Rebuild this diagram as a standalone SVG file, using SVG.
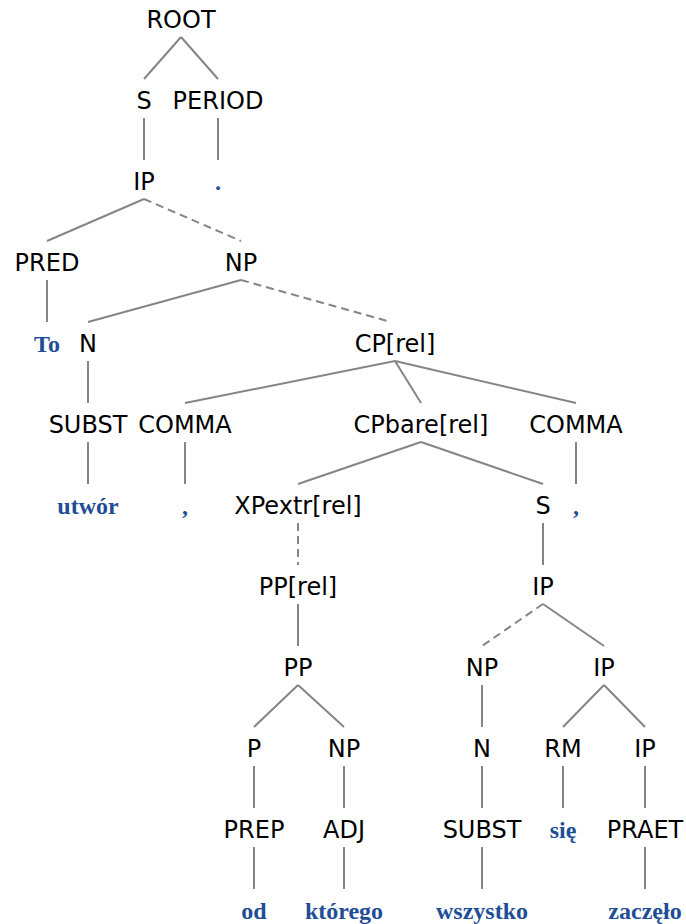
<svg xmlns="http://www.w3.org/2000/svg" width="686" height="924" viewBox="0 0 686 924">
<style>
.l{font-family:"DejaVu Sans",Verdana,sans-serif;font-size:24px;fill:#000;text-anchor:middle}
.w{font-family:"Liberation Serif","Times New Roman",serif;font-size:24px;font-weight:bold;fill:#1f4e96;text-anchor:middle}
#edges line{stroke:#858585;stroke-width:2;fill:none}
#edges line.d{stroke-dasharray:8,5}
</style>
<rect width="686" height="924" fill="#fff"/>
<g id="edges">
<line x1="181" y1="37" x2="144" y2="79"/>
<line x1="181" y1="37" x2="218" y2="79"/>
<line x1="144" y1="118" x2="144" y2="160"/>
<line x1="218" y1="118" x2="218" y2="160"/>
<line x1="144" y1="199" x2="47" y2="241"/>
<line class="d" x1="144" y1="199" x2="241" y2="241"/>
<line x1="47" y1="280" x2="47" y2="322"/>
<line x1="241" y1="280" x2="88" y2="322"/>
<line class="d" x1="241" y1="280" x2="391" y2="322"/>
<line x1="88" y1="361" x2="88" y2="403"/>
<line x1="395" y1="361" x2="185" y2="403"/>
<line x1="395" y1="361" x2="421" y2="403"/>
<line x1="395" y1="361" x2="576" y2="403"/>
<line x1="88" y1="442" x2="88" y2="484"/>
<line x1="185" y1="442" x2="185" y2="484"/>
<line x1="421" y1="442" x2="298" y2="484"/>
<line x1="421" y1="442" x2="543" y2="484"/>
<line x1="576" y1="442" x2="576" y2="484"/>
<line class="d" x1="298" y1="523" x2="298" y2="565"/>
<line x1="543" y1="523" x2="543" y2="565"/>
<line x1="298" y1="604" x2="298" y2="646"/>
<line class="d" x1="543" y1="604" x2="482" y2="646"/>
<line x1="543" y1="604" x2="604" y2="646"/>
<line x1="298" y1="685" x2="254" y2="727"/>
<line x1="298" y1="685" x2="344" y2="727"/>
<line x1="482" y1="685" x2="482" y2="727"/>
<line x1="604" y1="685" x2="563" y2="727"/>
<line x1="604" y1="685" x2="645" y2="727"/>
<line x1="254" y1="766" x2="254" y2="808"/>
<line x1="344" y1="766" x2="344" y2="808"/>
<line x1="482" y1="766" x2="482" y2="808"/>
<line x1="563" y1="766" x2="563" y2="808"/>
<line x1="645" y1="766" x2="645" y2="808"/>
<line x1="254" y1="847" x2="254" y2="889"/>
<line x1="344" y1="847" x2="344" y2="889"/>
<line x1="482" y1="847" x2="482" y2="889"/>
<line x1="645" y1="847" x2="645" y2="889"/>
</g>
<g id="n-root"><text class="l" x="181" y="28">ROOT</text></g>
<g id="n-s"><text class="l" x="144" y="109">S</text></g>
<g id="n-period"><text class="l" x="218" y="109">PERIOD</text></g>
<g id="n-ip1"><text class="l" x="144" y="190">IP</text></g>
<g id="w-dot"><text class="w" x="218" y="190">.</text></g>
<g id="n-pred"><text class="l" x="47" y="271">PRED</text></g>
<g id="n-np1"><text class="l" x="241" y="271">NP</text></g>
<g id="w-to"><text class="w" x="47" y="352">To</text></g>
<g id="n-n1"><text class="l" x="88" y="352">N</text></g>
<g id="n-cprel"><text class="l" x="395" y="352">CP[rel]</text></g>
<g id="n-subst1"><text class="l" x="88" y="433">SUBST</text></g>
<g id="n-comma1"><text class="l" x="185" y="433">COMMA</text></g>
<g id="n-cpbare"><text class="l" x="421" y="433">CPbare[rel]</text></g>
<g id="n-comma2"><text class="l" x="576" y="433">COMMA</text></g>
<g id="w-utwor"><text class="w" x="88" y="514">utwór</text></g>
<g id="w-comma1"><text class="w" x="185" y="514">,</text></g>
<g id="n-xpextr"><text class="l" x="298" y="514">XPextr[rel]</text></g>
<g id="n-s2"><text class="l" x="543" y="514">S</text></g>
<g id="w-comma2"><text class="w" x="576" y="514">,</text></g>
<g id="n-pprel"><text class="l" x="298" y="595">PP[rel]</text></g>
<g id="n-ip2"><text class="l" x="543" y="595">IP</text></g>
<g id="n-pp"><text class="l" x="298" y="676">PP</text></g>
<g id="n-np2"><text class="l" x="482" y="676">NP</text></g>
<g id="n-ip3"><text class="l" x="604" y="676">IP</text></g>
<g id="n-p"><text class="l" x="254" y="757">P</text></g>
<g id="n-np3"><text class="l" x="344" y="757">NP</text></g>
<g id="n-n2"><text class="l" x="482" y="757">N</text></g>
<g id="n-rm"><text class="l" x="563" y="757">RM</text></g>
<g id="n-ip4"><text class="l" x="645" y="757">IP</text></g>
<g id="n-prep"><text class="l" x="254" y="838">PREP</text></g>
<g id="n-adj"><text class="l" x="344" y="838">ADJ</text></g>
<g id="n-subst2"><text class="l" x="482" y="838">SUBST</text></g>
<g id="w-sie"><text class="w" x="563" y="838">się</text></g>
<g id="n-praet"><text class="l" x="645" y="838">PRAET</text></g>
<g id="w-od"><text class="w" x="254" y="919">od</text></g>
<g id="w-ktorego"><text class="w" x="344" y="919">którego</text></g>
<g id="w-wszystko"><text class="w" x="482" y="919">wszystko</text></g>
<g id="w-zaczelo"><text class="w" x="645" y="919">zaczęło</text></g>
</svg>
